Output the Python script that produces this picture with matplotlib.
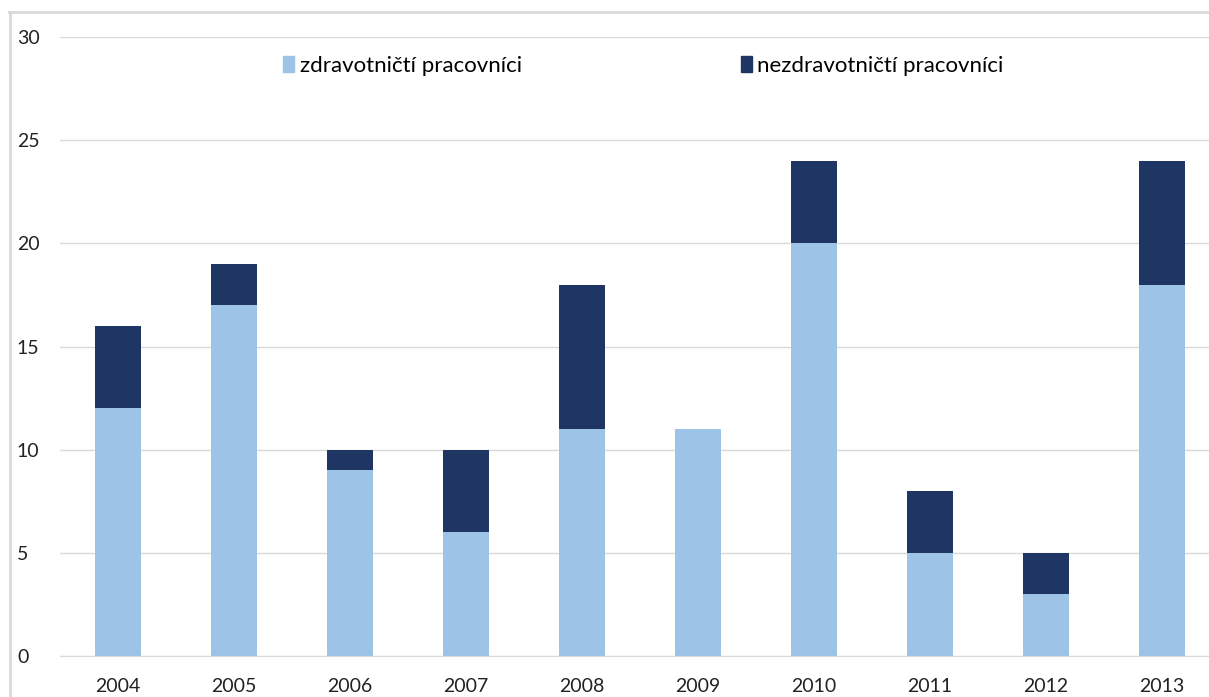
import matplotlib
matplotlib.use("Agg")
import matplotlib.pyplot as plt
from matplotlib.patches import Rectangle
from matplotlib.lines import Line2D

years = ["2004", "2005", "2006", "2007", "2008", "2009", "2010", "2011", "2012", "2013"]
zdravotnicti = [12, 17, 9, 6, 11, 11, 20, 5, 3, 18]
nezdravotnicti = [4, 2, 1, 4, 7, 0, 4, 3, 2, 6]
series_names = ["zdravotničtí pracovníci", "nezdravotničtí pracovníci"]
y_ticks = [0, 5, 10, 15, 20, 25, 30]

c_light = "#9DC3E6"
c_dark = "#1F3665"

plt.rcParams['font.family'] = ['Lato', 'DejaVu Sans']

W, H = 1209, 697
fig = plt.figure(figsize=(W/100, H/100), dpi=100)

# outer chart frame (top and left edges visible)
fig.add_artist(Line2D([9/W, 1], [1-12/H, 1-12/H], color="#D9D9D9", lw=2.0, transform=fig.transFigure))
fig.add_artist(Line2D([10/W, 10/W], [0, 1-12/H], color="#D9D9D9", lw=2.0, transform=fig.transFigure))

left_px, right_px = 60, 1220
top_px, bot_px = 37, 656
ax = fig.add_axes([left_px/W, 1-bot_px/H, (right_px-left_px)/W, (bot_px-top_px)/H])

x = list(range(len(years)))
ax.bar(x, zdravotnicti, width=0.4, color=c_light, label=series_names[0], zorder=3)
ax.bar(x, nezdravotnicti, width=0.4, bottom=zdravotnicti, color=c_dark, label=series_names[1], zorder=3)

ax.set_xlim(-0.5, len(years)-0.5)
ax.set_ylim(0, 30)
ax.set_yticks(y_ticks)
ax.set_yticklabels([str(v) for v in y_ticks])
ax.set_xticks(x)
ax.set_xticklabels(years)
ax.yaxis.grid(True, color="#D9D9D9", lw=1.0, zorder=0)
ax.set_axisbelow(True)
for s in ["top", "right", "left"]:
    ax.spines[s].set_visible(False)
ax.spines["bottom"].set_color("#D9D9D9")
ax.tick_params(axis="both", length=0, labelsize=14, colors="#222222")
ax.tick_params(axis="x", pad=16)
for lbl in ax.get_yticklabels():
    lbl.set_horizontalalignment("left")
ax.yaxis.set_tick_params(pad=31)

h1 = Rectangle((0, 0), 1, 1, color=c_light)
h2 = Rectangle((0, 0), 1, 1, color=c_dark)
leg = fig.legend([h1, h2], series_names, loc="center left", bbox_to_anchor=(283/W, 1-66/H),
                 ncol=2, frameon=False, fontsize=16, handlelength=0.5, handleheight=0.7,
                 handletextpad=0.25, columnspacing=9.85, borderaxespad=0, borderpad=0)

fig.savefig("out.png", dpi=100)
